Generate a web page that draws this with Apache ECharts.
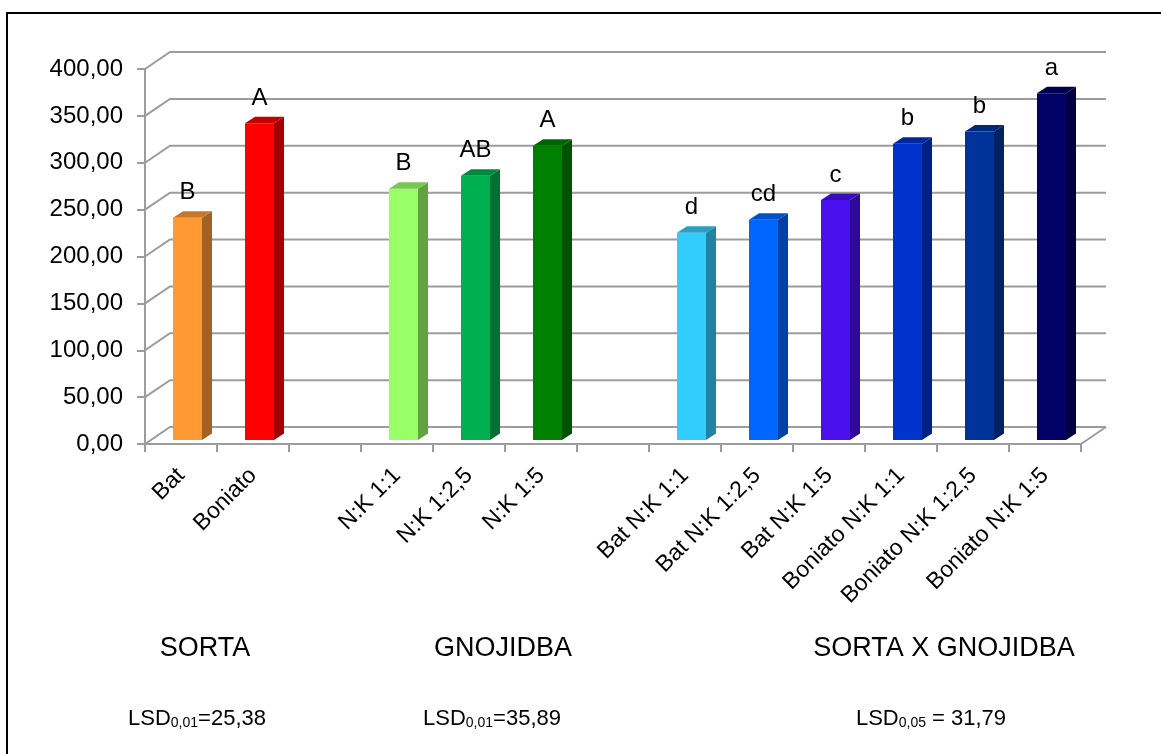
<!DOCTYPE html>
<html>
<head>
<meta charset="utf-8">
<script src="https://cdn.jsdelivr.net/npm/echarts@6/dist/echarts.min.js"></script>
<style>
html,body{margin:0;padding:0;background:#fff;}
#chart{width:1161px;height:754px;}
</style>
</head>
<body>
<div id="chart"></div>
<script>
// ---- data ----
const categories = ['Bat', 'Boniato', '', 'N:K 1:1', 'N:K 1:2,5', 'N:K 1:5', '',
  'Bat N:K 1:1', 'Bat N:K 1:2,5', 'Bat N:K 1:5', 'Boniato N:K 1:1', 'Boniato N:K 1:2,5', 'Boniato N:K 1:5'];
const values = [237, 338, null, 268, 282, 314, null, 221, 235, 256, 316, 329, 370];
const letters = ['B', 'A', '', 'B', 'AB', 'A', '', 'd', 'cd', 'c', 'b', 'b', 'a'];
const yTicks = [0, 50, 100, 150, 200, 250, 300, 350, 400];
const groupTitles = ['SORTA', 'GNOJIDBA', 'SORTA X GNOJIDBA'];
const lsdLabels = [['0,01', '=25,38'], ['0,01', '=35,89'], ['0,05', ' = 31,79']];

// ---- styles ----
const barColors = ['#FF9933', '#FF0000', null, '#99FF66', '#00B050', '#008000', null,
  '#33CCFF', '#0066FF', '#4A10EE', '#0033CC', '#003399', '#000066'];
const FONT = '"Liberation Sans", Arial, sans-serif';
const gridColor = '#9C9C9C';
const wallDx = 25, wallDy = -17;

function shade(hex, f) {
  const n = parseInt(hex.slice(1), 16);
  const r = Math.round(((n >> 16) & 255) * f), g = Math.round(((n >> 8) & 255) * f), b = Math.round((n & 255) * f);
  return 'rgb(' + r + ',' + g + ',' + b + ')';
}

const chart = echarts.init(document.getElementById('chart'), null, {renderer: 'canvas'});

function renderWall(params, api) {
  const v = api.value(1);
  const p = api.coord([0, v]);
  const cs = params.coordSys;
  const x0 = cs.x, x1 = cs.x + cs.width, y = p[1];
  const children = [{
    type: 'polyline',
    shape: {points: [[x0, y], [x0 + wallDx, y + wallDy], [x1 + wallDx, y + wallDy]]},
    style: {stroke: gridColor, lineWidth: 2, fill: null}
  }];
  if (v === 0) {
    children.push({type: 'line', shape: {x1: x1, y1: y, x2: x1 + wallDx, y2: y + wallDy},
      style: {stroke: gridColor, lineWidth: 2}});
  }
  return {type: 'group', children: children};
}

function renderBar(params, api) {
  const i = api.value(0), v = api.value(1);
  if (v == null || isNaN(v)) return null;
  const top = api.coord([i, v]), base = api.coord([i, 0]);
  const cx = top[0] + 6.5, w = 29, ddx = 10, ddy = -6.5;
  const yT = top[1] - 4, yB = base[1] - 4;
  const x0 = cx - w / 2, x1 = cx + w / 2;
  const c = barColors[i];
  return {type: 'group', children: [
    {type: 'rect', shape: {x: x0, y: yT, width: w, height: yB - yT}, style: {fill: c}},
    {type: 'polygon', shape: {points: [[x1, yT], [x1 + ddx, yT + ddy], [x1 + ddx, yB + ddy], [x1, yB]]},
      style: {fill: shade(c, 0.64)}},
    {type: 'polygon', shape: {points: [[x0, yT], [x0 + ddx, yT + ddy], [x1 + ddx, yT + ddy], [x1, yT]]},
      style: {fill: shade(c, 0.78)}},
    {type: 'text', style: {text: letters[i], x: cx, y: yT - 13, align: 'center', verticalAlign: 'bottom',
      font: '24px ' + FONT, fill: '#000'}}
  ]};
}

const titleX = [205, 503, 944];
const lsdX = [197, 492, 931];
const graphics = [
  {type: 'polyline', shape: {points: [[7, 754], [7, 13], [1161, 13]]}, style: {stroke: '#000', lineWidth: 2, fill: null}}
];
groupTitles.forEach((t, k) => {
  graphics.push({type: 'text', x: titleX[k], y: 649,
    style: {text: t, font: '27px ' + FONT, fill: '#000', align: 'center', verticalAlign: 'middle'}});
});
lsdLabels.forEach((l, k) => {
  graphics.push({type: 'text', x: lsdX[k], y: 718,
    style: {text: '{n|LSD}{s|' + l[0] + '}{n|' + l[1] + '}', align: 'center', verticalAlign: 'middle',
      rich: {
        n: {font: '22px ' + FONT, fill: '#000', lineHeight: 24, verticalAlign: 'bottom'},
        s: {font: '14px ' + FONT, fill: '#000', lineHeight: 11, verticalAlign: 'bottom'}
      }}});
});

chart.setOption({
  animation: false,
  backgroundColor: '#fff',
  grid: {left: 145, right: 80, top: 69, bottom: 310, containLabel: false},
  xAxis: {
    type: 'category', data: categories, boundaryGap: true,
    axisLine: {lineStyle: {color: gridColor, width: 2}},
    axisTick: {show: true, alignWithLabel: false, length: 8, lineStyle: {color: gridColor, width: 2}},
    axisLabel: {interval: 0, rotate: 45, margin: 28, color: '#000', fontSize: 23, fontFamily: FONT},
    splitLine: {show: false}
  },
  yAxis: {
    type: 'value', min: 0, max: 400, interval: 50,
    axisLine: {show: true, lineStyle: {color: gridColor, width: 2}},
    axisTick: {show: true, length: 8, lineStyle: {color: gridColor, width: 2}},
    axisLabel: {margin: 22, color: '#000', fontSize: 24, fontFamily: FONT,
      formatter: v => v.toFixed(2).replace('.', ',')},
    splitLine: {show: false}
  },
  series: [
    {type: 'custom', name: 'wall', renderItem: renderWall, encode: {x: 0, y: 1},
      data: yTicks.map(v => [0, v]), z: 1, clip: false, silent: true},
    {type: 'custom', name: 'bars', renderItem: renderBar, encode: {x: 0, y: 1},
      data: values.map((v, i) => [i, v == null ? '-' : v]), z: 3, clip: false}
  ],
  graphic: graphics
});
</script>
</body>
</html>
